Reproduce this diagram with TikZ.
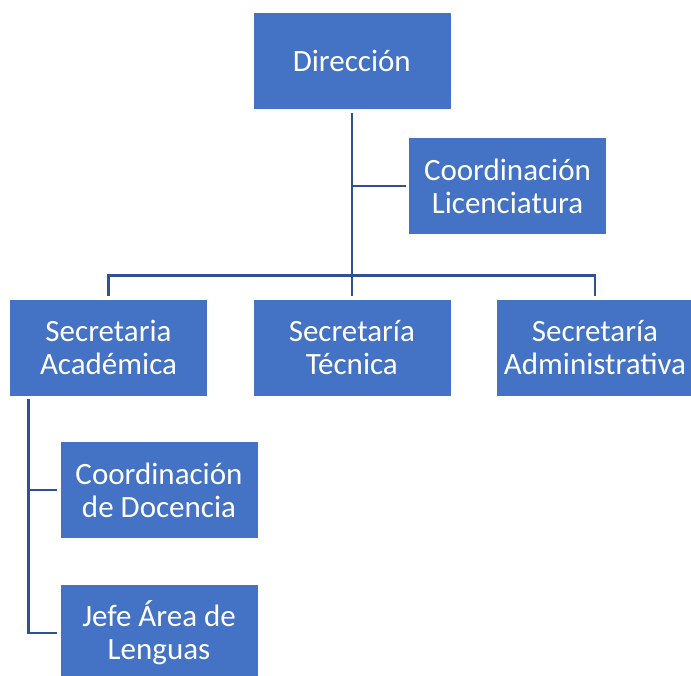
\documentclass[tikz,border=0pt]{standalone}
\usepackage{fontspec}
\setmainfont{Carlito}
\definecolor{boxblue}{HTML}{4472C4}
\definecolor{lineblue}{HTML}{2F528F}
\begin{document}
\begin{tikzpicture}[x=1pt,y=-1pt,
  orgbox/.style={rectangle, fill=boxblue, draw=white, line width=0.6pt,
    minimum width=198pt, minimum height=97pt, outer sep=3pt,
    align=center, text=white, font=\fontsize{31}{33}\selectfont, inner sep=0pt},
  conn/.style={draw=lineblue, line width=2.4pt}]
\useasboundingbox (0,0) rectangle (691,676);
\clip (0,0) rectangle (691,676);
\node[orgbox] (dir) at (351.8,61.3) {Dirección};
\node[orgbox] (lic) at (507.5,186) {Coordinación\\Licenciatura};
\node[orgbox] (aca) at (108.5,347.5) {Secretaria\\Académica};
\node[orgbox] (tec) at (351.8,347.5) {Secretaría\\Técnica};
\node[orgbox] (adm) at (595,347.5) {Secretaría\\Administrativa};
\node[orgbox] (doc) at (159,490) {Coordinación\\de Docencia};
\node[orgbox] (jef) at (159,633) {Jefe Área de\\Lenguas};
\coordinate (bus) at (351.8,275.7);
\coordinate (sp) at (28.3,0);
\draw[conn] (dir.south) -- (tec.north);
\draw[conn] (aca.north) |- (bus) -| (adm.north);
\draw[conn] (lic.west) -- (lic.west -| dir.south);
\draw[conn] (aca.south -| sp) |- (jef.west);
\draw[conn] (doc.west) -- (doc.west -| sp);
\end{tikzpicture}
\end{document}
